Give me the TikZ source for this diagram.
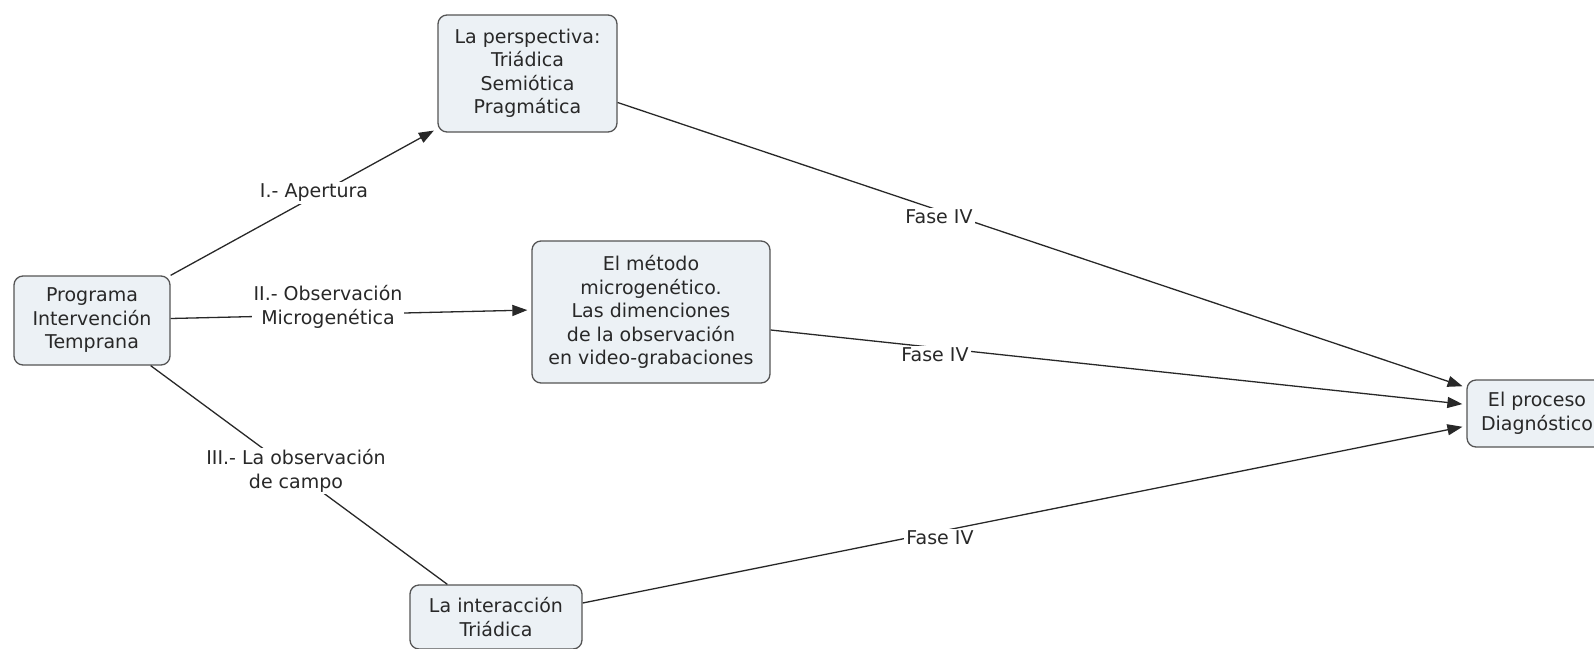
\documentclass[tikz,border=0pt]{standalone}
\usepackage{fontspec}
\setmainfont{DejaVu Sans}
\usetikzlibrary{arrows.meta}
\definecolor{boxfill}{RGB}{236,241,245}
\definecolor{boxline}{RGB}{85,85,85}
\definecolor{txt}{RGB}{40,40,40}
\begin{document}
\begin{tikzpicture}[x=1pt,y=-1pt,
  concept/.style={draw=boxline, fill=boxfill, rounded corners=9pt, line width=1.3pt,
    align=center, text=txt, font=\fontsize{19}{23.5}\selectfont, inner sep=0pt},
  lbl/.style={fill=white, text=txt, align=center, font=\fontsize{19}{23.5}\selectfont, inner sep=2pt},
  link/.style={draw=txt, line width=1.3pt},
  arr/.style={link, -{Triangle[length=15pt,width=11pt]}, shorten >=4pt}]
\useasboundingbox (0,0) rectangle (1594,648);
% concepts
\node[concept, minimum width=156pt, minimum height=89pt] (prog) at (92,320.5) {Programa\\Intervención\\Temprana};
\node[concept, minimum width=179pt, minimum height=117pt] (persp) at (527.5,73.5) {La perspectiva:\\Triádica\\Semiótica\\Pragmática};
\node[concept, minimum width=238pt, minimum height=142pt] (metodo) at (651,312) {El método\\microgenético.\\Las dimenciones\\de la observación\\en video-grabaciones};
\node[concept, minimum width=140pt, minimum height=67pt] (proceso) at (1537,413.5) {El proceso\\Diagnóstico};
\node[concept, minimum width=172pt, minimum height=64pt] (inter) at (496,617) {La interacción\\Triádica};
% connectors
\draw[arr] (prog.north east) -- ([yshift=4pt]persp.south west);
\draw[arr] ([yshift=2pt]prog.east) -- ([yshift=2pt]metodo.west);
\draw[link] ([xshift=-20pt]prog.south east) -- ([xshift=38pt]inter.north west);
\draw[arr] ([yshift=-29pt]persp.east) -- ([yshift=26pt]proceso.west);
\draw[arr] ([yshift=-18pt]metodo.east) -- ([yshift=9pt]proceso.west);
\draw[arr] ([yshift=14pt]inter.east) -- ([yshift=-12.5pt]proceso.west);
% labels
\node[lbl] (l1) at (314,193) {I.- Apertura};
\node[lbl] (l2) at (328,307) {II.- Observación\\Microgenética};
\node[lbl] (l3) at (296,471) {III.- La observación\\de campo};
\node[lbl] (l4) at (939,217) {Fase IV};
\node[lbl] (l5) at (935,355) {Fase IV};
\node[lbl] (l6) at (940,538) {Fase IV};
\end{tikzpicture}
\end{document}
